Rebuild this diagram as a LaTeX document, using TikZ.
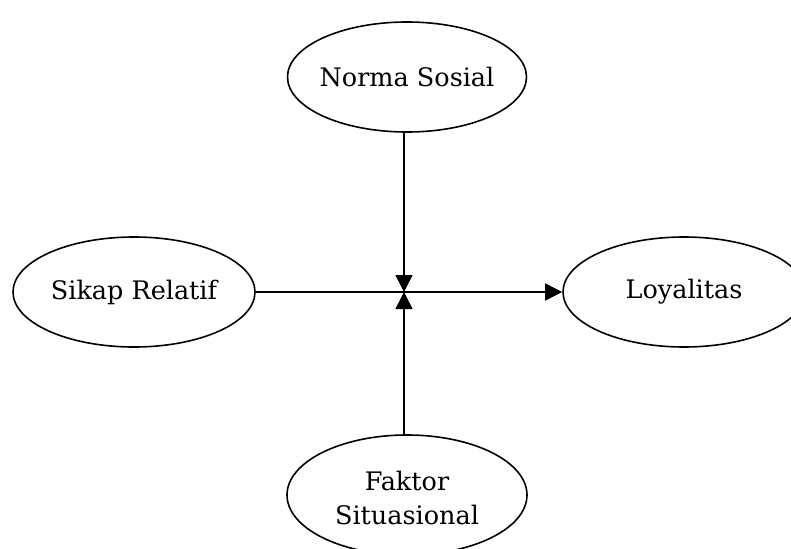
\documentclass[tikz,border=0pt]{standalone}
\usepackage{fontspec}
\setmainfont{DejaVu Serif}
\usetikzlibrary{arrows.meta,shapes.geometric}
\begin{document}
\begin{tikzpicture}[x=1pt,y=-1pt,
  oval/.style={draw,line width=1.6pt,ellipse,inner sep=0pt},
  lbl/.style={font=\fontsize{25.5}{34}\selectfont,align=center,inner sep=0pt},
  conn/.style={line width=1.6pt,-{Triangle[length=17pt,width=17pt]}}]
\useasboundingbox (0,0) rectangle (791,548);
\node[oval,minimum width=239pt,minimum height=110pt] (ns) at (407,77) {};
\node[lbl] (nst) at (ns.center) {Norma Sosial};
\node[oval,minimum width=242pt,minimum height=110pt] (sr) at (134,292) {};
\node[lbl] (srt) at (sr.center) {Sikap Relatif};
\node[oval,minimum width=242pt,minimum height=110pt] (ly) at (684,292) {};
\node[lbl] (lyt) at (ly.center) {Loyalitas};
\node[oval,minimum width=240pt,minimum height=120pt] (fs) at (407,495) {};
\node[lbl] (fst) at (407,498) {Faktor\\Situasional};
\coordinate (j) at (404,292);
\draw[conn] (ns.south -| j) -- (j);
\draw[conn] (fs.north -| j) -- (j);
\draw[conn] (sr.east) -- (ly.west);
\end{tikzpicture}
\end{document}
